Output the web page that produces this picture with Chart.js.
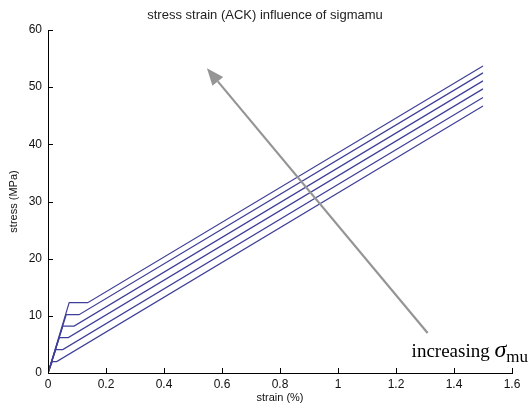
<!DOCTYPE html>
<html>
<head>
<meta charset="utf-8">
<script src="https://cdn.jsdelivr.net/npm/chart.js@4"></script>
<style>
  html, body { margin: 0; padding: 0; background: #fff; }
  #wrap { width: 529px; height: 412px; }
</style>
</head>
<body>
<div id="wrap"><canvas id="ackChart"></canvas></div>
<script>
// ACK model stress-strain curves, one per matrix cracking stress
const sigmaMu = [12.3, 10.2, 8.2, 6.2, 4.1, 2.0];                // plateau stress (MPa)
const crackStart = [0.073, 0.063, 0.051, 0.039, 0.027, 0.015];   // strain at first crack (%)
const crackEnd = [0.137, 0.107, 0.090, 0.070, 0.051, 0.030];     // strain at end of cracking (%)
const finalStrain = 1.5;
const finalStress = [53.7, 52.5, 51.1, 49.7, 48.2, 46.7];
const xTicks = [0, 0.2, 0.4, 0.6, 0.8, 1, 1.2, 1.4, 1.6];
const yTicks = [0, 10, 20, 30, 40, 50, 60];

// arrow in data units: tail near the bottom right, head up left
const arrowTail = { x: 1.309, y: 7.0 };
const arrowHead = { x: 0.548, y: 53.3 };

const titleText = 'stress strain (ACK) influence of sigmamu';
const lineColor = '#3f3f99';

const datasets = sigmaMu.map((s, i) => ({
  label: 'sigma_mu = ' + s,
  data: [
    { x: 0, y: 0 },
    { x: crackStart[i], y: s },
    { x: crackEnd[i], y: s },
    { x: finalStrain, y: finalStress[i] }
  ],
  showLine: true,
  borderColor: lineColor,
  borderWidth: 1.2,
  pointRadius: 0,
  tension: 0,
  fill: false
}));

// figure title, centred on the whole figure like matlab does here
const figTitle = {
  id: 'figTitle',
  afterDraw(chart) {
    const ctx = chart.ctx;
    ctx.save();
    ctx.fillStyle = '#222';
    ctx.font = '13px "Liberation Sans", Arial, sans-serif';
    ctx.textAlign = 'center';
    ctx.textBaseline = 'middle';
    ctx.fillText(titleText, 265, 15);
    ctx.restore();
  }
};

// matlab style ticks pointing into the axes
const inwardTicks = {
  id: 'inwardTicks',
  afterDraw(chart) {
    const ctx = chart.ctx;
    const xs = chart.scales.x, ys = chart.scales.y;
    const area = chart.chartArea;
    ctx.save();
    ctx.strokeStyle = '#000';
    ctx.lineWidth = 1;
    ctx.beginPath();
    xTicks.forEach(v => {
      const px = Math.round(xs.getPixelForValue(v)) + 0.5;
      ctx.moveTo(px, area.bottom);
      ctx.lineTo(px, area.bottom - 5);
    });
    yTicks.forEach(v => {
      const py = Math.round(ys.getPixelForValue(v)) + 0.5;
      ctx.moveTo(area.left, py);
      ctx.lineTo(area.left + 5, py);
    });
    ctx.stroke();
    ctx.restore();
  }
};

// grey arrow plus the "increasing sigma_mu" note
const arrowNote = {
  id: 'arrowNote',
  afterDraw(chart) {
    const ctx = chart.ctx;
    const xs = chart.scales.x, ys = chart.scales.y;
    const tx = xs.getPixelForValue(arrowTail.x), ty = ys.getPixelForValue(arrowTail.y);
    const hx = xs.getPixelForValue(arrowHead.x), hy = ys.getPixelForValue(arrowHead.y);
    const ang = Math.atan2(hy - ty, hx - tx);
    const headLen = 17, headW = 7;
    const bx = hx - headLen * Math.cos(ang), by = hy - headLen * Math.sin(ang);
    ctx.save();
    ctx.strokeStyle = '#959595';
    ctx.fillStyle = '#959595';
    ctx.lineWidth = 2.2;
    ctx.beginPath();
    ctx.moveTo(tx, ty);
    ctx.lineTo(bx, by);
    ctx.stroke();
    ctx.beginPath();
    ctx.moveTo(hx, hy);
    ctx.lineTo(bx + headW * Math.sin(ang), by - headW * Math.cos(ang));
    ctx.lineTo(bx - headW * Math.sin(ang), by + headW * Math.cos(ang));
    ctx.closePath();
    ctx.fill();

    ctx.fillStyle = '#000';
    ctx.textBaseline = 'alphabetic';
    ctx.textAlign = 'left';
    let x = tx - 16, y = ty + 24;
    ctx.font = '19px "Liberation Serif", "Times New Roman", serif';
    ctx.fillText('increasing ', x, y);
    x += ctx.measureText('increasing ').width;
    ctx.font = 'italic 24px "Liberation Serif", "Times New Roman", serif';
    ctx.fillText('σ', x, y);
    x += ctx.measureText('σ').width;
    ctx.font = '17px "Liberation Serif", "Times New Roman", serif';
    ctx.fillText('mu', x, y + 5);
    ctx.restore();
  }
};

const tickFont = { family: '"Liberation Sans", Arial, sans-serif', size: 12 };

new Chart(document.getElementById('ackChart').getContext('2d'), {
  type: 'scatter',
  data: { datasets: datasets },
  options: {
    responsive: true,
    maintainAspectRatio: false,
    animation: false,
    layout: { padding: { top: 30, right: 17, bottom: 0, left: 0 } },
    plugins: {
      legend: { display: false },
      tooltip: { enabled: false },
      title: { display: false }
    },
    scales: {
      x: {
        type: 'linear',
        min: 0,
        max: 1.6,
        afterBuildTicks: s => { s.ticks = xTicks.map(v => ({ value: v })); },
        afterFit: s => { s.height = 39; },
        grid: { display: true, drawOnChartArea: false, drawTicks: false },
        border: { display: true, color: '#000', width: 1 },
        ticks: { color: '#111', font: tickFont, padding: 4, maxRotation: 0, callback: v => String(v) },
        title: {
          display: true,
          text: 'strain (%)',
          color: '#111',
          font: { family: '"Liberation Sans", Arial, sans-serif', size: 11 },
          padding: { top: 0, bottom: 7 }
        }
      },
      y: {
        type: 'linear',
        min: 0,
        max: 60,
        afterBuildTicks: s => { s.ticks = yTicks.map(v => ({ value: v })); },
        afterFit: s => { s.width = 48; },
        grid: { display: true, drawOnChartArea: false, drawTicks: false },
        border: { display: true, color: '#000', width: 1 },
        ticks: { color: '#111', font: tickFont, padding: 6, callback: v => String(v) },
        title: {
          display: true,
          text: 'stress (MPa)',
          color: '#111',
          font: { family: '"Liberation Sans", Arial, sans-serif', size: 11 },
          padding: { top: 7, bottom: 0 }
        }
      }
    }
  },
  plugins: [figTitle, inwardTicks, arrowNote]
});
</script>
</body>
</html>
